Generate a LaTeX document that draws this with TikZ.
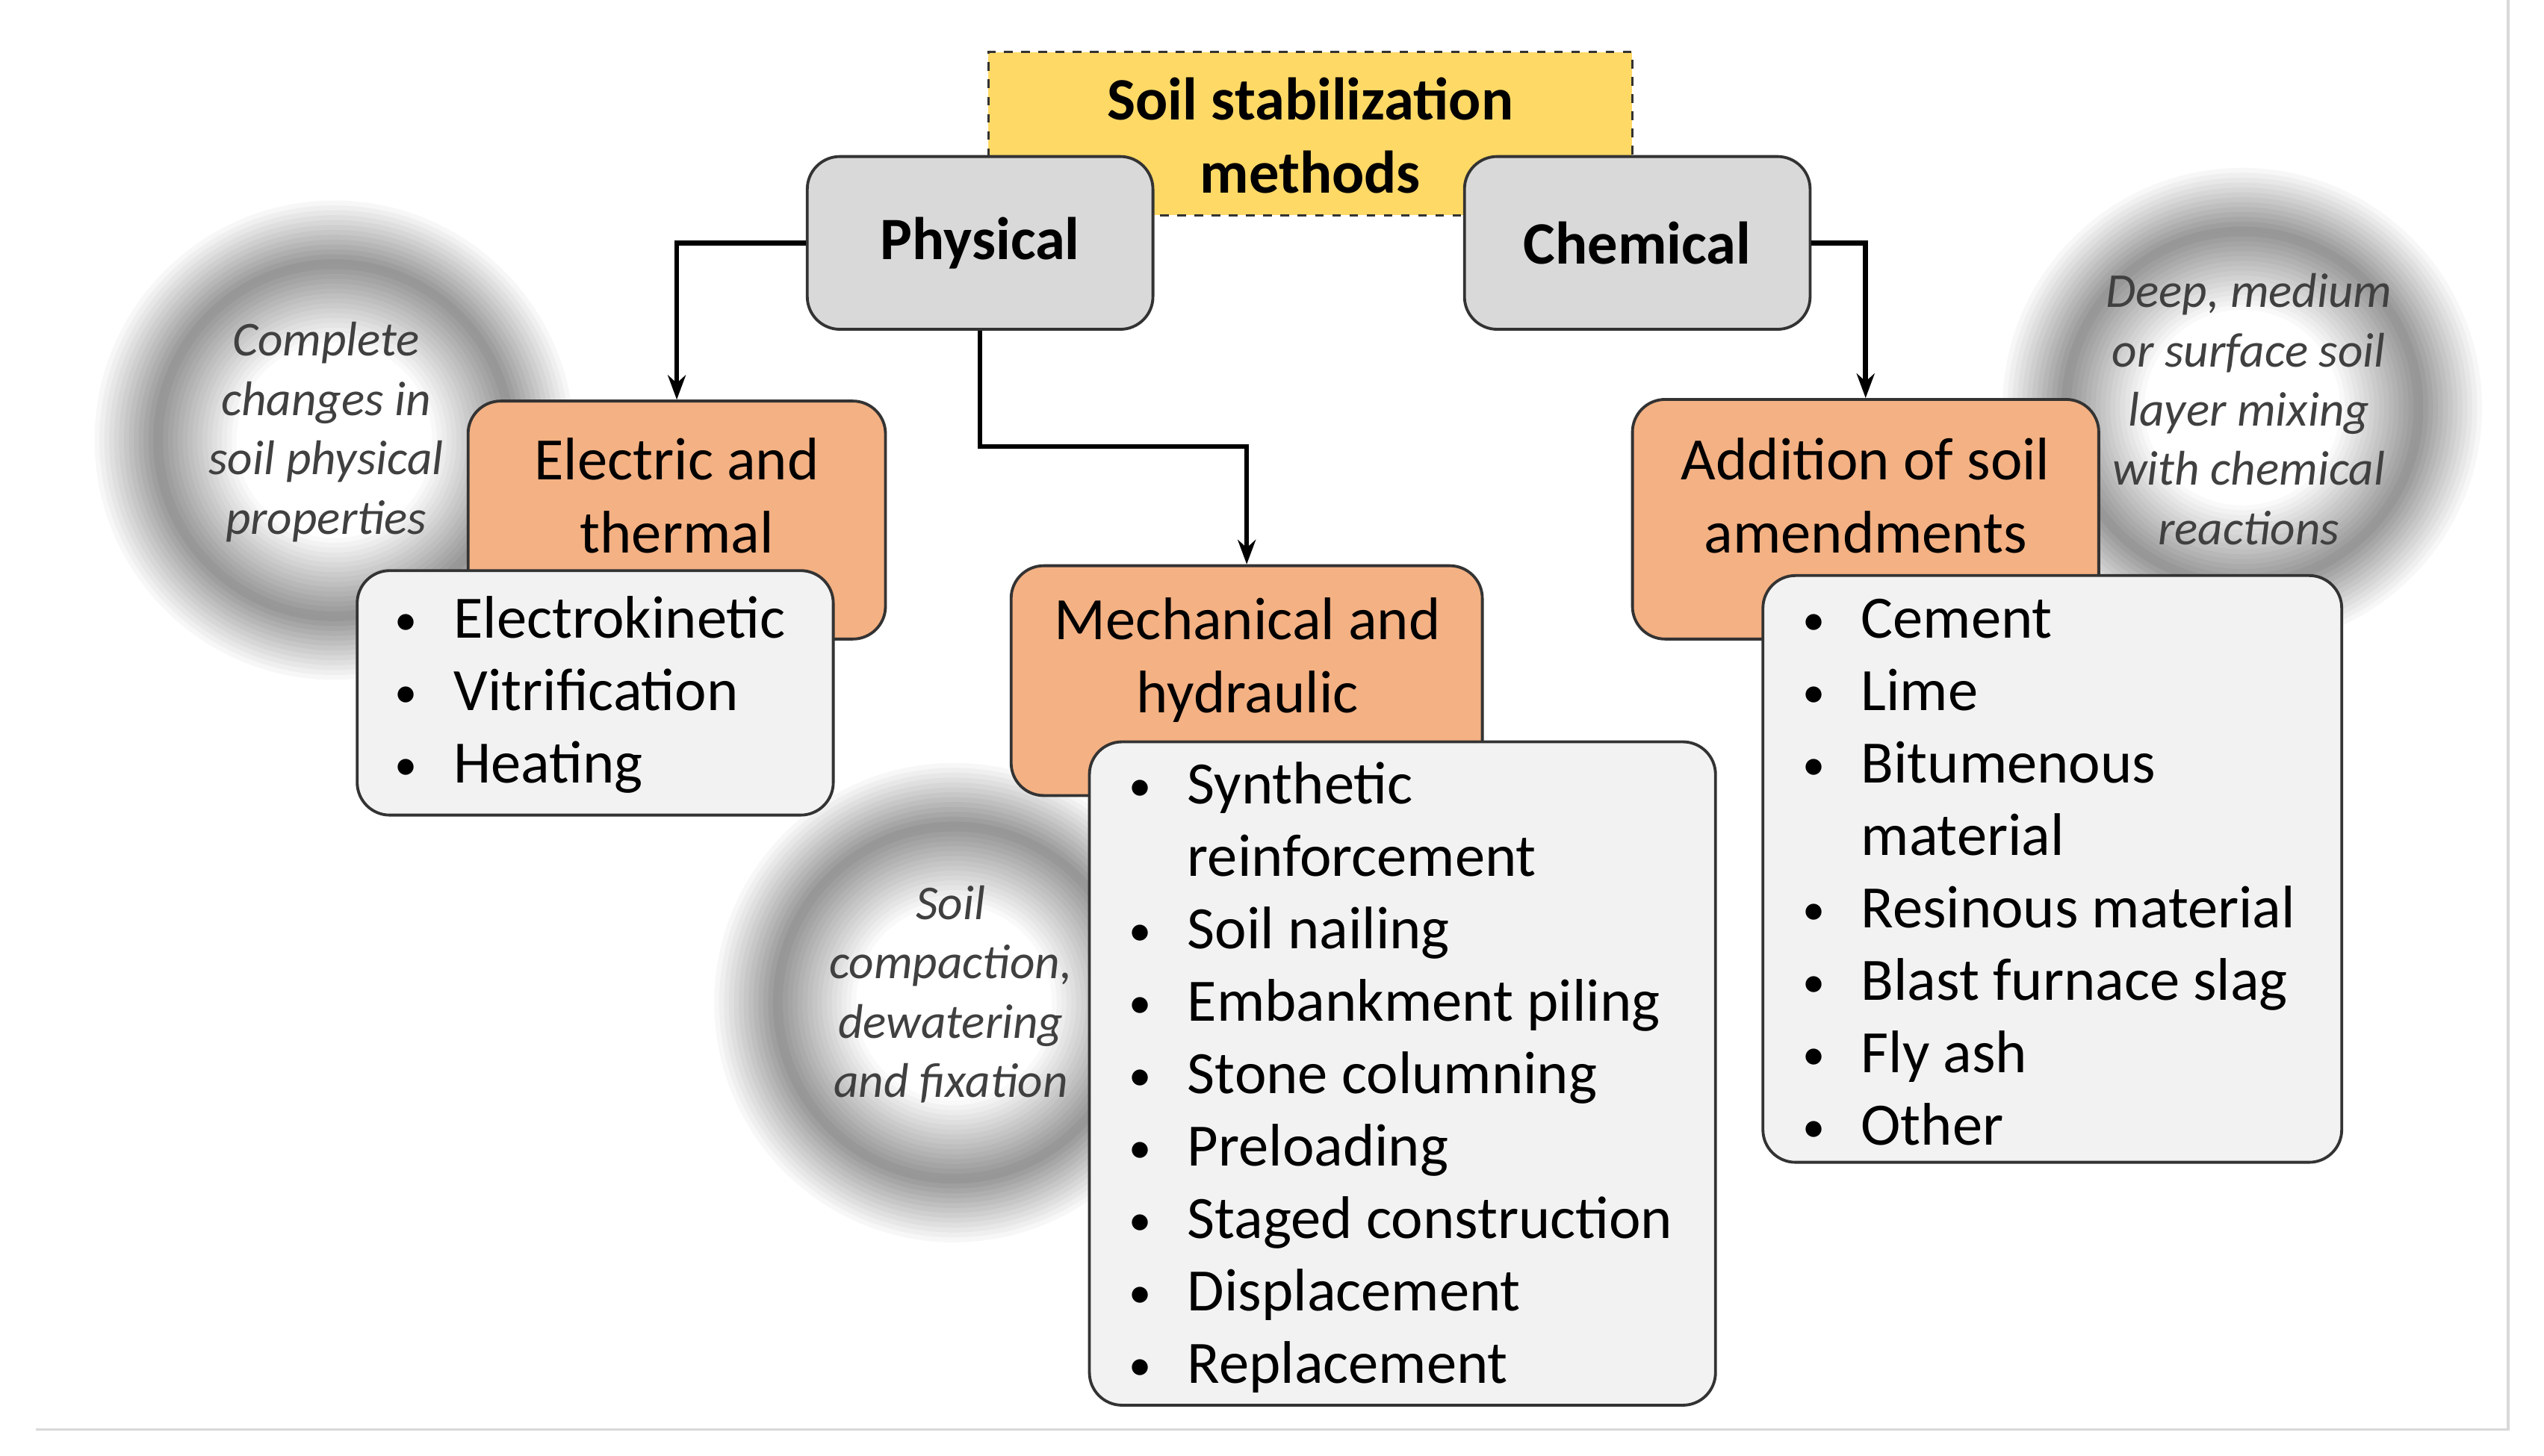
\documentclass[tikz,border=0pt]{standalone}
\usepackage{fontspec}
\setmainfont{Carlito}
\usetikzlibrary{arrows.meta}
\definecolor{boxgray}{HTML}{D9D9D9}
\definecolor{boxorange}{HTML}{F4B183}
\definecolor{boxlist}{HTML}{F2F2F2}
\definecolor{boxyellow}{HTML}{FFD966}
\newcommand{\bi}[1]{\makebox[0.72cm][l]{\raisebox{0.05em}{\scalebox{0.75}{•}}}#1}
\newcommand{\bc}[1]{\hspace*{0.72cm}#1}
\newcommand{\halo}[2]{%
  \foreach \r in {150,147,...,60}{%
    \pgfmathsetmacro{\k}{\r>110 ? 42*(150-\r)/40 : 42*(\r-60)/50}%
    \fill[black!\k] (#1,#2) circle[radius=\r];
  }%
  \fill[white] (#1,#2) circle[radius=58];
}
\begin{document}
\begin{tikzpicture}[x=0.02cm,y=-0.02cm,
  box/.style={draw=black!80, line width=1pt, rounded corners=0.4cm, inner sep=0pt},
  main/.style={font=\fontsize{21}{25.6}\selectfont},
  lst/.style={align=left, anchor=west, font=\fontsize{21}{25.3}\selectfont},
  halotext/.style={font=\fontsize{17}{20.7}\selectfont\itshape, text=black!75, align=center},
  conn/.style={line width=1.7pt, -{Stealth[length=0.3cm,width=0.22cm]}}]
\useasboundingbox (0,0) rectangle (1560,893);
\fill[white] (0,0) rectangle (1560,893);
\draw[black!15, line width=0.8pt] (1538,0) -- (1538,877) -- (22,877);
% halos
\halo{205}{270}
\halo{585}{615}
\halo{1375}{250}
\node[halotext] (h1) at (200,265) {Complete\\changes in\\soil physical\\properties};
\node[halotext] (h2) at (583,610) {Soil\\compaction,\\dewatering\\and fixation};
\node[halotext] (h3) at (1379,251) {Deep, medium\\or surface soil\\layer mixing\\with chemical\\reactions};
% title
\node[draw=black!80, dashed, line width=0.8pt, fill=boxyellow, minimum width=7.9cm, minimum height=2cm, inner sep=0pt] (title) at (803.5,82) {};
\node[font=\fontsize{21}{25.6}\selectfont\bfseries, align=center] (titletext) at (803.5,83) {Soil stabilization\\methods};
\node[box, fill=boxgray, minimum width=4.24cm, minimum height=2.12cm, font=\fontsize{21}{25.6}\selectfont\bfseries] (phys) at (601,149) {Physical};
\node[box, fill=boxgray, minimum width=4.24cm, minimum height=2.12cm, font=\fontsize{21}{25.6}\selectfont\bfseries] (chem) at (1004,149) {Chemical};
% orange
\node[box, fill=boxorange, minimum width=5.12cm, minimum height=2.92cm] (elec) at (415,319) {};
\node[main, align=center] (electext) at (415,304) {Electric and\\thermal};
\node[box, fill=boxorange, minimum width=5.78cm, minimum height=2.82cm] (mech) at (764.5,417.5) {};
\node[main, align=center] (mechtext) at (765,405) {Mechanical and\\hydraulic};
\node[box, fill=boxorange, minimum width=5.72cm, minimum height=2.94cm] (add) at (1144,318.5) {};
\node[main, align=center] (addtext) at (1144,304) {Addition of soil\\amendments};
% arrows
\draw[conn] (phys.west) -| (elec.north);
\draw[conn] (phys.south) -- ++(0,71) -| (mech.north);
\draw[conn] (chem.east) -| (add.north);
% lists
\node[box, fill=boxlist, minimum width=5.84cm, minimum height=3cm] (l1) at (365,425) {};
\node[lst] (l1t) at (236,426) {\bi{Electrokinetic}\\\bi{Vitrification}\\\bi{Heating}};
\node[box, fill=boxlist, minimum width=7.68cm, minimum height=8.14cm] (l2) at (860,658.5) {};
\node[lst] (l2t) at (686,661) {\bi{Synthetic}\\\bc{reinforcement}\\\bi{Soil nailing}\\\bi{Embankment piling}\\\bi{Stone columning}\\\bi{Preloading}\\\bi{Staged construction}\\\bi{Displacement}\\\bi{Replacement}};
\node[box, fill=boxlist, minimum width=7.1cm, minimum height=7.2cm] (l3) at (1258.5,533) {};
\node[lst] (l3t) at (1099,535) {\bi{Cement}\\\bi{Lime}\\\bi{Bitumenous}\\\bc{material}\\\bi{Resinous material}\\\bi{Blast furnace slag}\\\bi{Fly ash}\\\bi{Other}};
\end{tikzpicture}
\end{document}
